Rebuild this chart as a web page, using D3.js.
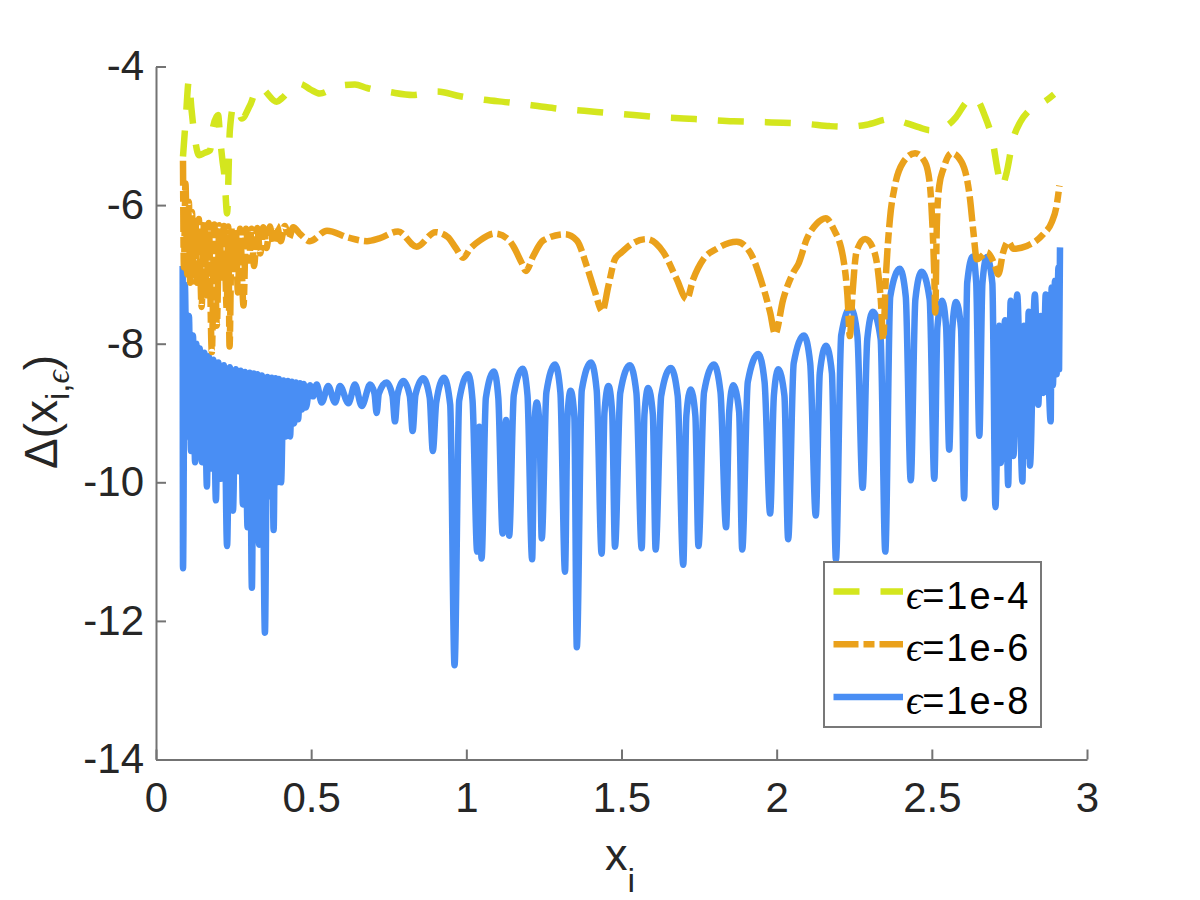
<!DOCTYPE html>
<html><head><meta charset="utf-8">
<script src="https://cdn.jsdelivr.net/npm/d3@7/dist/d3.min.js"></script>
<style>
body{margin:0;background:#fff}
svg{font-family:"Liberation Sans",Arial,Helvetica,sans-serif}
</style>
</head><body>
<svg id="chart" width="1200" height="900"></svg>
<script>
// ---- data ----
const xTicks = [0, 0.5, 1, 1.5, 2, 2.5, 3];
const yTicks = [-14, -12, -10, -8, -6, -4];
const legendLabels = ["=1e-4", "=1e-6", "=1e-8"];

// eps = 1e-4
const eps4 = [[0.087,-5.30],[0.096,-4.75],[0.106,-4.20],[0.114,-4.60],[0.124,-5.00],[0.139,-5.28],[0.155,-5.25],[0.174,-5.21],[0.184,-4.87],[0.200,-4.70],[0.207,-5.05],[0.214,-5.35],[0.221,-5.60],[0.229,-6.12],[0.238,-4.92],[0.251,-4.56],[0.265,-4.61],[0.276,-4.75],[0.303,-4.56],[0.329,-4.30],[0.342,-4.32],[0.389,-4.51],[0.405,-4.46],[0.435,-4.33],[0.464,-4.25],[0.497,-4.33],[0.528,-4.39],[0.565,-4.33],[0.603,-4.27],[0.641,-4.26],[0.680,-4.31],[0.754,-4.37],[0.828,-4.41],[0.906,-4.36],[0.980,-4.43],[1.058,-4.48],[1.140,-4.52],[1.230,-4.57],[1.300,-4.61],[1.380,-4.64],[1.460,-4.67],[1.540,-4.70],[1.620,-4.73],[1.700,-4.75],[1.780,-4.77],[1.860,-4.79],[1.940,-4.80],[2.020,-4.81],[2.100,-4.83],[2.170,-4.86],[2.220,-4.87],[2.290,-4.84],[2.365,-4.76],[2.420,-4.82],[2.460,-4.88],[2.494,-4.92],[2.520,-4.90],[2.550,-4.85],[2.578,-4.73],[2.610,-4.52],[2.633,-4.44],[2.650,-4.50],[2.668,-4.68],[2.697,-5.10],[2.712,-5.50],[2.725,-5.74],[2.740,-5.55],[2.762,-5.05],[2.785,-4.80],[2.810,-4.65],[2.840,-4.56],[2.865,-4.50],[2.894,-4.40]];

// eps = 1e-6
const eps6 = [[0.087,-5.36],[0.090,-6.90],[0.095,-5.69],[0.101,-7.00],[0.106,-5.95],[0.110,-7.12],[0.116,-6.10],[0.121,-7.10],[0.127,-6.15],[0.132,-7.12],[0.138,-6.20],[0.147,-7.47],[0.155,-6.24],[0.163,-7.30],[0.170,-6.26],[0.180,-8.12],[0.188,-6.28],[0.196,-7.74],[0.204,-6.29],[0.212,-7.10],[0.219,-6.30],[0.228,-7.50],[0.233,-6.31],[0.237,-8.04],[0.244,-6.32],[0.251,-7.00],[0.257,-6.33],[0.264,-7.26],[0.271,-6.34],[0.282,-7.45],[0.290,-6.34],[0.300,-6.80],[0.308,-6.34],[0.316,-6.88],[0.326,-6.33],[0.336,-6.70],[0.346,-6.32],[0.356,-6.62],[0.367,-6.31],[0.378,-6.56],[0.390,-6.30],[0.402,-6.52],[0.415,-6.30],[0.428,-6.48],[0.442,-6.32],[0.465,-6.42],[0.496,-6.52],[0.551,-6.37],[0.620,-6.47],[0.680,-6.52],[0.720,-6.48],[0.780,-6.38],[0.840,-6.60],[0.900,-6.39],[0.940,-6.46],[0.966,-6.62],[0.990,-6.76],[1.012,-6.63],[1.044,-6.51],[1.092,-6.41],[1.134,-6.49],[1.151,-6.59],[1.178,-6.83],[1.192,-6.95],[1.216,-6.73],[1.248,-6.51],[1.318,-6.42],[1.356,-6.51],[1.388,-6.88],[1.415,-7.26],[1.438,-7.53],[1.458,-7.16],[1.479,-6.78],[1.501,-6.68],[1.533,-6.56],[1.581,-6.49],[1.635,-6.68],[1.678,-7.07],[1.710,-7.36],[1.731,-7.07],[1.764,-6.78],[1.807,-6.63],[1.871,-6.53],[1.914,-6.68],[1.952,-7.12],[1.979,-7.55],[1.995,-7.86],[2.021,-7.36],[2.054,-6.97],[2.070,-6.85],[2.097,-6.49],[2.129,-6.27],[2.158,-6.19],[2.183,-6.34],[2.215,-6.78],[2.228,-7.30],[2.236,-7.89],[2.244,-7.30],[2.258,-6.66],[2.285,-6.49],[2.311,-6.63],[2.327,-6.97],[2.336,-7.40],[2.343,-7.94],[2.352,-7.02],[2.365,-6.20],[2.381,-5.72],[2.408,-5.38],[2.446,-5.25],[2.478,-5.38],[2.494,-5.72],[2.502,-6.30],[2.508,-7.02],[2.511,-7.55],[2.516,-6.30],[2.524,-5.72],[2.537,-5.48],[2.564,-5.25],[2.596,-5.38],[2.623,-5.91],[2.634,-6.39],[2.645,-6.78],[2.660,-6.74],[2.677,-6.68],[2.704,-6.88],[2.714,-7.00],[2.730,-6.68],[2.746,-6.53],[2.763,-6.63],[2.806,-6.59],[2.859,-6.42],[2.886,-6.25],[2.902,-6.01],[2.911,-5.72]];

// eps = 1e-8
const eps8 = [[0.086,-6.88],[0.087,-11.24],[0.093,-7.15],[0.100,-9.34],[0.106,-7.60],[0.113,-9.55],[0.119,-7.88],[0.126,-9.71],[0.130,-8.00],[0.135,-9.55],[0.141,-8.07],[0.148,-9.71],[0.156,-8.13],[0.164,-10.06],[0.170,-8.18],[0.177,-9.80],[0.185,-8.23],[0.193,-10.26],[0.201,-8.27],[0.209,-9.95],[0.219,-8.31],[0.229,-10.92],[0.238,-8.34],[0.248,-10.41],[0.257,-8.37],[0.266,-9.84],[0.273,-8.39],[0.280,-10.32],[0.287,-8.41],[0.295,-10.65],[0.302,-8.42],[0.309,-11.52],[0.315,-8.43],[0.322,-10.15],[0.327,-8.44],[0.332,-10.90],[0.341,-8.46],[0.351,-12.17],[0.359,-8.48],[0.367,-10.20],[0.373,-8.49],[0.379,-10.69],[0.385,-8.50],[0.390,-10.00],[0.396,-8.51],[0.403,-10.00],[0.411,-8.53],[0.419,-9.34],[0.425,-8.54],[0.432,-9.34],[0.438,-8.55],[0.445,-9.15],[0.451,-8.56],[0.458,-9.09],[0.464,-8.57],[0.470,-8.95],[0.476,-8.58],[0.483,-8.92],
[0.496,-8.60],[0.506,-8.76],[0.518,-8.59],[0.534,-8.85],[0.555,-8.61],[0.577,-8.85],[0.593,-8.61],[0.620,-8.86],[0.641,-8.59],[0.663,-8.90],[0.690,-8.59],[0.704,-8.72],[0.711,-9.00],[0.718,-8.72],[0.743,-8.56],[0.762,-8.75],[0.770,-9.12],[0.778,-8.74],[0.797,-8.54],[0.818,-8.76],[0.827,-9.26],[0.836,-8.74],[0.861,-8.50],[0.882,-8.78],[0.892,-9.55],[0.903,-8.85],[0.928,-8.49],[0.948,-8.88],[0.962,-12.64],[0.977,-8.82],[1.006,-8.44],[1.020,-8.82],[1.035,-11.00],[1.042,-9.20],[1.049,-11.10],[1.063,-8.78],[1.089,-8.40],[1.103,-8.78],[1.117,-10.74],[1.128,-9.10],[1.138,-10.77],[1.153,-8.74],[1.182,-8.36],[1.197,-8.74],[1.212,-11.11],[1.219,-9.20],[1.227,-8.85],[1.236,-9.20],[1.243,-10.81],[1.258,-8.70],[1.286,-8.30],[1.303,-8.70],[1.318,-11.29],[1.326,-9.05],[1.336,-8.68],[1.348,-9.05],[1.356,-12.38],[1.372,-8.67],[1.402,-8.27],[1.420,-8.67],[1.436,-11.03],[1.445,-9.00],[1.458,-8.61],[1.470,-9.00],[1.479,-10.93],[1.496,-8.71],[1.527,-8.31],[1.548,-8.71],[1.565,-10.95],[1.574,-9.02],[1.586,-8.64],[1.601,-9.02],[1.610,-10.97],[1.628,-8.75],[1.659,-8.35],[1.681,-8.75],[1.699,-11.19],[1.709,-9.04],[1.723,-8.66],[1.738,-9.04],[1.748,-10.92],[1.766,-8.70],[1.798,-8.30],[1.819,-8.70],[1.837,-10.65],[1.847,-8.98],[1.860,-8.60],[1.879,-8.98],[1.889,-10.97],[1.907,-8.55],[1.941,-8.15],[1.961,-8.55],[1.979,-10.45],[1.991,-8.75],[2.005,-8.37],[2.025,-8.75],[2.037,-10.82],[2.055,-8.28],[2.088,-7.88],[2.108,-8.28],[2.126,-10.48],[2.139,-8.42],[2.159,-8.03],[2.178,-8.42],[2.191,-11.12],[2.208,-7.88],[2.238,-7.48],[2.260,-7.88],[2.277,-10.08],[2.292,-7.93],[2.310,-7.54],[2.335,-7.93],[2.350,-11.00],[2.366,-7.32],[2.397,-6.92],[2.416,-7.32],[2.432,-9.97],[2.447,-7.36],[2.467,-6.96],[2.493,-7.36],[2.508,-9.95],[2.518,-7.76],[2.533,-7.38],[2.546,-7.76],[2.556,-9.53],[2.566,-7.78],[2.578,-7.40],[2.594,-7.78],[2.604,-10.23],[2.614,-7.12],[2.632,-6.74],[2.643,-7.12],[2.653,-9.33],[2.663,-7.13],[2.677,-6.75],[2.695,-7.13],[2.705,-10.36],
[2.717,-7.74],[2.722,-9.72],[2.736,-7.66],[2.746,-10.04],[2.754,-7.38],[2.763,-9.62],[2.775,-7.29],[2.792,-9.99],[2.797,-7.74],[2.806,-9.62],[2.812,-7.54],[2.816,-9.76],[2.832,-7.29],[2.843,-8.88],[2.851,-7.60],[2.859,-8.71],[2.867,-7.29],[2.883,-9.12],[2.886,-7.19],[2.890,-8.60],[2.897,-7.09],[2.902,-8.44],[2.908,-6.90],[2.910,-8.37],[2.913,-6.61]];

// ---- drawing ----
const svg = d3.select("#chart");
const x = d3.scaleLinear().domain([0, 3]).range([156, 1087]);
const y = d3.scaleLinear().domain([-14, -4]).range([759.5, 66.5]);

const axisColor = "#737373", textColor = "#262626";
const lw = 6.5;

const series = [
  {data: eps8, color: "#498EF4", dash: null},
  {data: eps6, color: "#EAA11B", dash: "25,5,11,5"},
  {data: eps4, color: "#D4E61E", dash: "26,21"}
];
const legendOrder = [
  {label: legendLabels[0], color: "#D4E61E", dash: "26,21"},
  {label: legendLabels[1], color: "#EAA11B", dash: "25,5,11,5"},
  {label: legendLabels[2], color: "#498EF4", dash: null}
];

const line = d3.line().x(d => x(d[0])).y(d => y(d[1])).curve(d3.curveMonotoneX);

svg.append("g").selectAll("path").data(series).join("path")
  .attr("d", d => line(d.data))
  .attr("fill", "none")
  .attr("stroke", d => d.color)
  .attr("stroke-width", lw)
  .attr("stroke-linejoin", "round")
  .attr("stroke-dasharray", d => d.dash);

// axes
const xAxis = d3.axisBottom(x).tickValues(xTicks).tickSize(-10).tickSizeOuter(0)
  .tickPadding(23).tickFormat(d => String(d));
const yAxis = d3.axisLeft(y).tickValues(yTicks).tickSize(-10).tickSizeOuter(0)
  .tickPadding(12).tickFormat(d => String(d));

const gx = svg.append("g").attr("transform", "translate(0,759.5)").call(xAxis);
const gy = svg.append("g").attr("transform", "translate(156,0)").call(yAxis);
[gx, gy].forEach(g => {
  g.select(".domain").attr("stroke", axisColor).attr("stroke-width", 2);
  g.selectAll(".tick line").attr("stroke", axisColor).attr("stroke-width", 2);
  g.selectAll(".tick text").attr("fill", textColor).style("font-size", "42px")
    .style("font-family", '"Liberation Sans",Arial,sans-serif');
});

// axis labels
const xl = svg.append("text").attr("x", 620).attr("y", 870).attr("text-anchor", "middle")
  .attr("fill", textColor).style("font-size", "45px");
xl.append("tspan").text("x");
xl.append("tspan").attr("dy", 22).style("font-size", "34px").text("i");

const yl = svg.append("text").attr("transform", "translate(57,412) rotate(-90)")
  .attr("text-anchor", "middle").attr("fill", textColor).style("font-size", "46px");
yl.append("tspan").text("Δ(x");
yl.append("tspan").attr("dy", 12).style("font-size", "33px").text("i,");
yl.append("tspan").style("font-size", "33px").style("font-style", "italic")
  .style("font-family", '"Liberation Serif",serif').text("ϵ");
yl.append("tspan").attr("dy", -12).text(")");

// legend
const lg = svg.append("g");
lg.append("rect").attr("x", 824).attr("y", 562).attr("width", 217).attr("height", 165)
  .attr("fill", "#fff").attr("stroke", "#787878").attr("stroke-width", 2);
const rows = lg.selectAll("g.row").data(legendOrder).join("g").attr("class", "row")
  .attr("transform", (d, i) => `translate(0,${591.5 + i * 52.75})`);
rows.append("line").attr("x1", 833.5).attr("x2", 903).attr("y1", 0).attr("y2", 0)
  .attr("stroke", d => d.color).attr("stroke-width", lw).attr("stroke-dasharray", d => d.dash);
const lt = rows.append("text").attr("x", 906).attr("y", 17).attr("fill", "#000")
  .style("font-size", "38px");
lt.append("tspan").style("font-style", "italic").style("font-family", '"Liberation Serif",serif')
  .style("font-size", "40px").text("ϵ");
lt.append("tspan").style("letter-spacing", "2px").text(d => d.label);
</script>
</body></html>
